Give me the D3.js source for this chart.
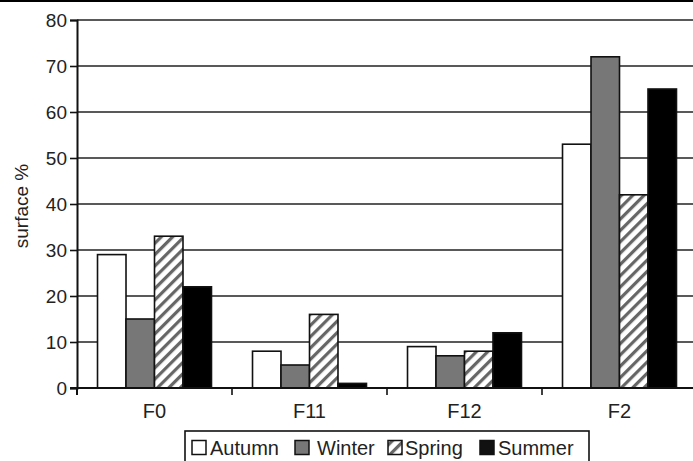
<!DOCTYPE html>
<html>
<head>
<meta charset="utf-8">
<script src="https://cdn.jsdelivr.net/npm/d3@7"></script>
<style>
body { margin: 0; background: #fff; }
text { font-family: "Liberation Sans", Arial, sans-serif; fill: #222; }
</style>
</head>
<body>
<div id="chart"></div>
<script>
categories = ['F0', 'F11', 'F12', 'F2'];
seasons = ['Autumn', 'Winter', 'Spring', 'Summer'];
autumn = [29, 8, 9, 53];
winter = [15, 5, 7, 72];
spring = [33, 16, 8, 42];
summer = [22, 1, 12, 65];
y_ticks = [0, 10, 20, 30, 40, 50, 60, 70, 80];

series = [autumn, winter, spring, summer];
fills = ['#fff', '#777', 'url(#hatch)', '#000'];

chart_width = 693;
chart_height = 461;
margin = { left: 77, right: -4, top: 20, bottom: 73 };

svg = d3.select('#chart')
	.append('svg')
	.attr('width', chart_width)
	.attr('height', chart_height);

// diagonal hatch for spring
pattern = svg.append('defs').append('pattern')
	.attr('id', 'hatch')
	.attr('patternUnits', 'userSpaceOnUse')
	.attr('width', 8)
	.attr('height', 8)
	.attr('patternTransform', 'rotate(45)');
pattern.append('rect').attr('width', 8).attr('height', 8).attr('fill', '#fff');
pattern.append('rect').attr('width', 3.2).attr('height', 8).attr('fill', '#666');

x_scale = d3.scaleBand()
	.domain(categories)
	.range([margin.left, chart_width - margin.right])
	.paddingInner(0)
	.paddingOuter(0);

y_scale = d3.scaleLinear()
	.domain([0, 80])
	.range([chart_height - margin.bottom, margin.top]);

inner_x = d3.scaleBand()
	.domain(seasons)
	.range([0, x_scale.bandwidth()])
	.paddingOuter(0.72)
	.paddingInner(0);

// top border line
svg.append('line')
	.attr('x1', 0).attr('x2', chart_width)
	.attr('y1', 1).attr('y2', 1)
	.attr('stroke', '#000')
	.attr('stroke-width', 2);

// gridlines
svg.selectAll('.grid')
	.data(y_ticks.slice(1))
	.enter()
	.append('line')
	.attr('class', 'grid')
	.attr('x1', margin.left)
	.attr('x2', chart_width)
	.attr('y1', (d) => y_scale(d))
	.attr('y2', (d) => y_scale(d))
	.attr('stroke', '#222')
	.attr('stroke-width', 1.6);

// bars
series.forEach(function(vals, s) {
	svg.selectAll('.bar-' + s)
		.data(vals)
		.enter()
		.append('rect')
		.attr('x', (d, i) => x_scale(categories[i]) + inner_x(seasons[s]))
		.attr('y', (d) => y_scale(d))
		.attr('width', inner_x.bandwidth())
		.attr('height', (d) => y_scale(0) - y_scale(d))
		.attr('fill', fills[s])
		.attr('stroke', '#111')
		.attr('stroke-width', 1.6);
});

// y axis
y_axis = svg.append('g')
	.attr('transform', 'translate(' + margin.left + ',0)')
	.call(d3.axisLeft(y_scale).tickValues(y_ticks).tickSize(7).tickPadding(3));
y_axis.select('.domain').attr('stroke', '#111').attr('stroke-width', 2);
y_axis.selectAll('.tick line').attr('stroke', '#111').attr('stroke-width', 1.6);
y_axis.selectAll('text')
	.attr('font-family', null)
	.attr('font-size', null)
	.style('font-size', '19px')
	.attr('fill', '#222');

// x axis
x_axis = svg.append('g')
	.attr('transform', 'translate(0,' + y_scale(0) + ')');
x_axis.append('line')
	.attr('x1', margin.left - 7).attr('x2', chart_width)
	.attr('y1', 0).attr('y2', 0)
	.attr('stroke', '#111').attr('stroke-width', 2);
x_axis.selectAll('.xtick')
	.data(categories.slice(1))
	.enter()
	.append('line')
	.attr('x1', (d) => x_scale(d))
	.attr('x2', (d) => x_scale(d))
	.attr('y1', 0).attr('y2', 7)
	.attr('stroke', '#111').attr('stroke-width', 1.6);
x_axis.append('line')
	.attr('x1', margin.left).attr('x2', margin.left)
	.attr('y1', 0).attr('y2', 7)
	.attr('stroke', '#111').attr('stroke-width', 2);
x_axis.selectAll('.xlabel')
	.data(categories)
	.enter()
	.append('text')
	.attr('x', (d) => x_scale(d) + x_scale.bandwidth() / 2)
	.attr('y', 30)
	.attr('text-anchor', 'middle')
	.style('font-size', '20px')
	.text((d) => d);

// y axis title
svg.append('text')
	.attr('transform', 'translate(28,' + 206 + ') rotate(-90)')
	.attr('text-anchor', 'middle')
	.style('font-size', '19px')
	.text('surface %');

// legend
legend = svg.append('g').attr('transform', 'translate(185,431)');
legend.append('rect')
	.attr('x', 0).attr('y', 0)
	.attr('width', 404).attr('height', 40)
	.attr('fill', '#fff')
	.attr('stroke', '#111')
	.attr('stroke-width', 1.6);
legend_x = [7, 110, 203, 295];
legend_text_x = [25, 132, 220, 313];
legend_fills = ['#fff', '#777', 'url(#hatch)', '#111'];
seasons.forEach(function(name, i) {
	legend.append('rect')
		.attr('x', legend_x[i]).attr('y', 9.5)
		.attr('width', 14).attr('height', 14)
		.attr('fill', legend_fills[i])
		.attr('stroke', '#111')
		.attr('stroke-width', 1.5);
	legend.append('text')
		.attr('x', legend_text_x[i])
		.attr('y', 24)
		.style('font-size', '20px')
		.text(name);
});
</script>
</body>
</html>
